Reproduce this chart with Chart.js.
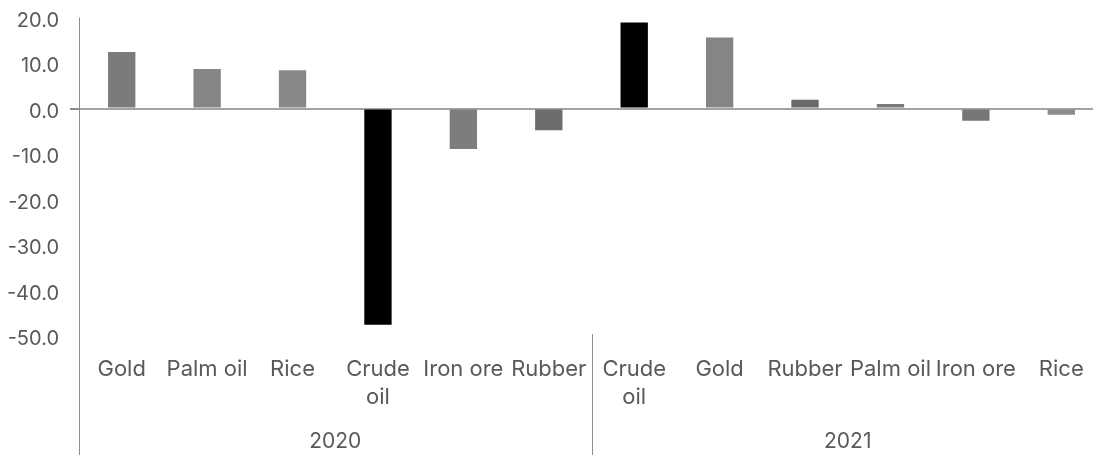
<!DOCTYPE html>
<html>
<head>
<meta charset="utf-8">
<script src="https://cdn.jsdelivr.net/npm/chart.js@4.4.1/dist/chart.umd.min.js"></script>
<style>
  html, body { margin: 0; padding: 0; background: #ffffff; overflow: hidden; }
  #wrap { position: relative; width: 1104px; height: 455px; }
</style>
</head>
<body>
<div id="wrap"><canvas id="c"></canvas></div>
<script>
// ---- data ----
const categories = ['Gold', 'Palm oil', 'Rice', 'Crude oil', 'Iron ore', 'Rubber',
                    'Crude oil', 'Gold', 'Rubber', 'Palm oil', 'Iron ore', 'Rice'];
const values = [12.4, 8.7, 8.4, -47.5, -8.9, -4.8,
                18.9, 15.6, 1.9, 1.0, -2.7, -1.4];
const years = ['2020', '2021'];
const yearSizes = [6, 6];
const yTicks = [20, 10, 0, -10, -20, -30, -40, -50];

// ---- styles ----
const barColors = ['#7b7b7b', '#858585', '#888888', '#000000', '#7d7d7d', '#6c6c6c',
                   '#000000', '#858585', '#6a6a6a', '#7a7a7a', '#777777', '#8c8c8c'];
const textColor = '#595959';
const lineColor = '#8c8c8c';
const FONT = 'Inter, "Liberation Sans", Arial, sans-serif';

function zeroPadding(scale) {
  scale.paddingTop = 0;
  scale.paddingBottom = 0;
  scale.paddingLeft = 0;
  scale.paddingRight = 0;
}

const groupPlugin = {
  id: 'groups',
  afterDraw(chart) {
    const ctx = chart.ctx;
    const xs = chart.scales.x;
    const area = chart.chartArea;
    const H = chart.height;
    ctx.save();
    ctx.strokeStyle = lineColor;
    ctx.lineWidth = 1;
    ctx.beginPath();
    ctx.moveTo(Math.round(area.left) + 0.5, area.top);
    ctx.lineTo(Math.round(area.left) + 0.5, H);
    ctx.stroke();
    ctx.fillStyle = textColor;
    ctx.font = '21px ' + FONT;
    ctx.textAlign = 'center';
    ctx.textBaseline = 'alphabetic';
    let start = 0;
    yearSizes.forEach((n, gi) => {
      const end = start + n - 1;
      const x0 = xs.getPixelForValue(start);
      const x1 = xs.getPixelForValue(end);
      ctx.fillText(years[gi], (x0 + x1) / 2, 448);
      if (gi < yearSizes.length - 1) {
        const sep = (xs.getPixelForValue(end) + xs.getPixelForValue(end + 1)) / 2;
        ctx.beginPath();
        ctx.moveTo(Math.round(sep) + 0.5, area.bottom - 2);
        ctx.lineTo(Math.round(sep) + 0.5, H);
        ctx.stroke();
      }
      start += n;
    });
    ctx.restore();
  }
};

const ctx = document.getElementById('c').getContext('2d');
new Chart(ctx, {
  type: 'bar',
  data: {
    labels: categories,
    datasets: [{
      data: values,
      backgroundColor: barColors,
      borderWidth: 0,
      barPercentage: 0.32,
      categoryPercentage: 1.0
    }]
  },
  options: {
    responsive: true,
    maintainAspectRatio: false,
    animation: false,
    devicePixelRatio: 1,
    layout: { padding: { top: 17.5, left: 0, right: 0, bottom: 0 } },
    plugins: { legend: { display: false }, tooltip: { enabled: false } },
    scales: {
      x: {
        grid: { display: false },
        border: { display: false },
        ticks: {
          color: textColor,
          font: { family: FONT, size: 22, lineHeight: '27.7px' },
          padding: 12,
          maxRotation: 0,
          autoSkip: false,
          callback: function (v, i) {
            const s = categories[i];
            return s === 'Crude oil' ? s.split(' ') : s;
          }
        },
        afterFit: function (scale) { scale.height = 119; zeroPadding(scale); }
      },
      y: {
        min: -50,
        max: 20,
        afterBuildTicks: function (scale) { scale.ticks = yTicks.map(v => ({ value: v })); },
        border: { display: false },
        grid: {
          drawOnChartArea: true,
          drawTicks: true,
          tickLength: 9,
          tickColor: lineColor,
          lineWidth: (c) => (c.tick && c.tick.value === 0 ? 2 : 0),
          color: (c) => (c.tick && c.tick.value === 0 ? '#a3a3a3' : 'rgba(0,0,0,0)')
        },
        ticks: {
          color: textColor,
          font: { family: FONT, size: 20 },
          padding: 11,
          labelOffset: 3,
          callback: (v) => Number(v).toFixed(1)
        },
        afterFit: function (scale) { scale.width = 79; zeroPadding(scale); }
      }
    }
  },
  plugins: [groupPlugin]
});
</script>
</body>
</html>
